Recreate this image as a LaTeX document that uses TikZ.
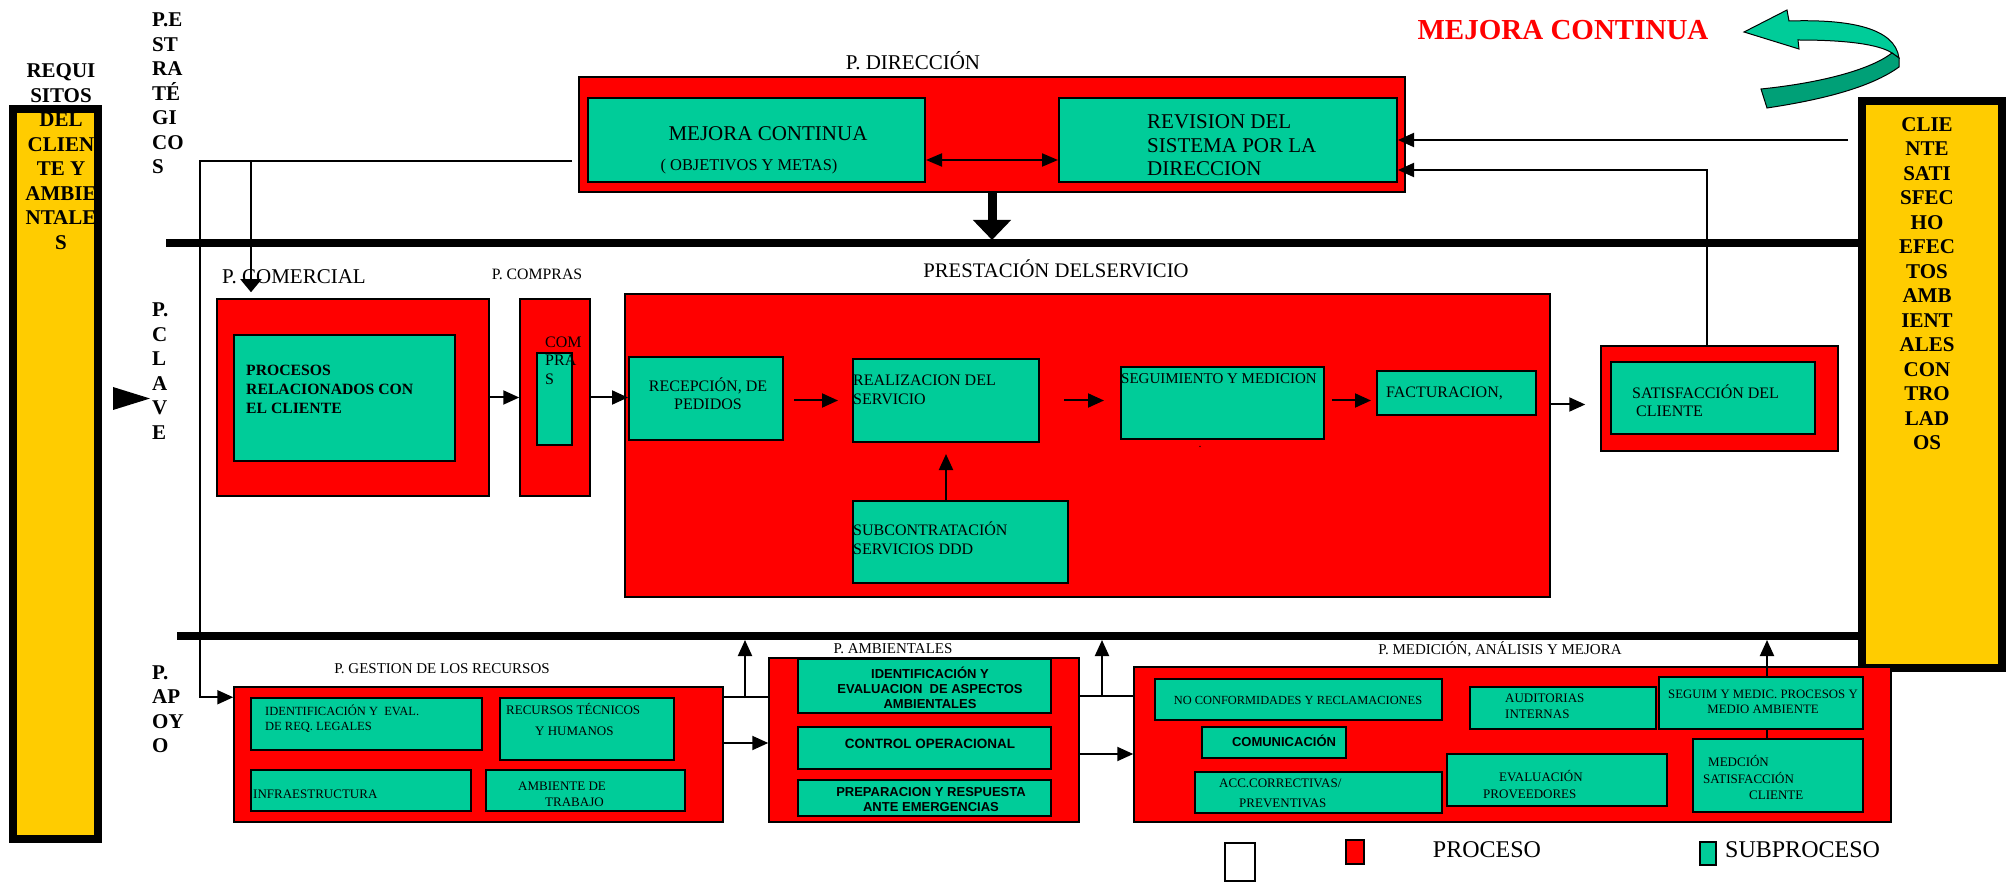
\documentclass[tikz,border=0pt]{standalone}
\usepackage{fontspec}
\setmainfont{Liberation Serif}
\setsansfont{Liberation Sans}
\usetikzlibrary{arrows.meta, positioning}

\definecolor{procred}{HTML}{FF0000}
\definecolor{subgreen}{HTML}{00CC99}
\definecolor{darkgreen}{HTML}{00A077}
\definecolor{baryellow}{HTML}{FFCC00}
\newcommand{\fsz}[2]{\fontsize{#1}{#2}\selectfont}

\begin{document}
\begin{tikzpicture}[
    x=1pt, y=-1pt,
    proc/.style={rectangle, draw=black, line width=1.5pt, fill=procred, inner sep=0pt},
    sub/.style={rectangle, draw=black, line width=2pt, fill=subgreen, inner sep=0pt},
    bar/.style={rectangle, draw=black, line width=8pt, fill=baryellow, inner sep=0pt},
    txt/.style={inner sep=0pt, font=\fsz{16}{18.7}},
    small/.style={inner sep=0pt, font=\fsz{13}{16}},
    bsans/.style={inner sep=0pt, font=\fsz{13}{15}\sffamily\bfseries},
    vtxt/.style={inner sep=0pt, align=left, font=\fsz{21}{24.5}\bfseries},
    flow/.style={line width=2pt, -{Triangle[length=16pt,width=14pt]}},
    sepline/.style={line width=8.5pt}
]
\fill[white] (0,0) rectangle (2006,882);
\useasboundingbox (0,0) rectangle (2006,882);

% side bars
\node[bar, minimum width=85pt, minimum height=730pt] (lbar) at (55.5,474) {};
\node[bar, minimum width=140pt, minimum height=567pt] (rbar) at (1932,384.5) {};
\node[vtxt, align=center] (t-req) at (61,156.5) {REQUI\\SITOS\\DEL\\CLIEN\\TE Y\\AMBIE\\NTALE\\S};
\node[vtxt, align=center] (t-cli) at (1927,283.5) {CLIE\\NTE\\SATI\\SFEC\\HO\\EFEC\\TOS\\AMB\\IENT\\ALES\\CON\\TRO\\LAD\\OS};
\node[vtxt, anchor=west] (t-estr) at (152,93.5) {P.E\\ST\\RA\\TÉ\\GI\\CO\\S};
\node[vtxt, anchor=west] (t-clave) at (152,371) {P.\\C\\L\\A\\V\\E};
\node[vtxt, anchor=west] (t-apoyo) at (152,709) {P.\\AP\\OY\\O};
\fill (113,387) -- (150,398.5) -- (113,410) -- cycle;

% mejora continua
\node[inner sep=0pt, text=procred, font=\fsz{29}{32}\bfseries] (t-mc) at (1563,30) {MEJORA CONTINUA};
\fill[subgreen, draw=black, line width=1pt] (1744,32) -- (1787,10) -- (1789,21)
    .. controls (1850,19) and (1895,28) .. (1899,58) -- (1892,53)
    .. controls (1880,45) and (1850,40) .. (1798,40) -- (1799,49) -- cycle;
\fill[darkgreen, draw=black, line width=1pt] (1892,53) -- (1899,58) -- (1899,67)
    .. controls (1870,88) and (1820,100) .. (1767,108) -- (1761,89)
    .. controls (1820,83) and (1870,70) .. (1892,53) -- cycle;

% direccion
\node[inner sep=0pt, font=\fsz{21}{24}] (t-dir) at (913,61) {P. DIRECCIÓN};
\node[proc, minimum width=826pt, minimum height=115pt] (dir) at (992,134.5) {};
\node[sub, minimum width=337pt, minimum height=84pt] (mej) at (756.5,140) {};
\node[sub, minimum width=338pt, minimum height=84pt] (rev) at (1228,140) {};
\node[inner sep=0pt, font=\fsz{21}{24}] (t-mej1) at (768,134) {MEJORA CONTINUA};
\node[inner sep=0pt, font=\fsz{16.4}{19}] (t-mej2) at (749,167) {( OBJETIVOS Y METAS)};
\node[inner sep=0pt, align=left, anchor=west, font=\fsz{21}{23.5}] (t-rev) at (1147,145.5) {REVISION DEL\\SISTEMA POR LA\\DIRECCION};

% procesos clave
\node[inner sep=0pt, font=\fsz{21}{24}] (t-com) at (294,277) {P. COMERCIAL};
\node[inner sep=0pt, font=\fsz{15.8}{18}] (t-cmp) at (537,274) {P. COMPRAS};
\node[inner sep=0pt, font=\fsz{20.7}{24}] (t-pres) at (1056,269) {PRESTACIÓN DELSERVICIO};
\node[proc, minimum width=272pt, minimum height=197pt] (com) at (353,397.5) {};
\node[sub, minimum width=221pt, minimum height=126pt] (proc) at (344.5,398) {};
\node[proc, minimum width=70pt, minimum height=197pt] (cmp) at (555,397.5) {};
\node[sub, minimum width=35pt, minimum height=92pt] (cmpin) at (554.5,399) {};
\node[proc, minimum width=925pt, minimum height=303pt] (pres) at (1087.5,445.5) {};
\node[sub, minimum width=154pt, minimum height=83pt] (rec) at (706,398.5) {};
\node[sub, minimum width=186pt, minimum height=83pt] (real) at (946,400.5) {};
\node[sub, minimum width=203pt, minimum height=72pt] (seg) at (1222.5,403) {};
\node[sub, minimum width=159pt, minimum height=44pt] (fac) at (1456.5,393) {};
\node[sub, minimum width=215pt, minimum height=82pt] (subc) at (960.5,542) {};
\node[proc, minimum width=237pt, minimum height=105pt] (satr) at (1719.5,398.5) {};
\node[sub, minimum width=204pt, minimum height=72pt] (sat) at (1713,398) {};

\node[inner sep=0pt, align=left, anchor=west, font=\fsz{15.7}{19}\bfseries] (t-proc) at (246,389) {PROCESOS\\RELACIONADOS CON\\EL CLIENTE};
\node[txt, align=left, anchor=west, font=\fsz{16}{18.5}] (t-cmpin) at (545,360.5) {COM\\PRA\\S};
\node[txt, align=center, font=\fsz{16}{18}] (t-rec) at (708,394) {RECEPCIÓN, DE\\PEDIDOS};
\node[txt, align=left, anchor=west, font=\fsz{16}{19}] (t-real) at (853,389.5) {REALIZACION DEL\\SERVICIO};
\node[txt, anchor=west, font=\fsz{15}{18}] (t-seg) at (1121,379) {SEGUIMIENTO Y MEDICION};
\node[inner sep=0pt, font=\fsz{12}{12}] (t-dot) at (1200,447) {.};
\node[txt, anchor=west] (t-fac) at (1386,393) {FACTURACION,};
\node[txt, align=left, anchor=west, font=\fsz{16}{19}] (t-sub) at (853,538.5) {SUBCONTRATACIÓN\\SERVICIOS DDD};
\node[txt, align=left, anchor=west, font=\fsz{16}{18}] (t-sat) at (1632,401) {SATISFACCIÓN DEL\\\ CLIENTE};

% procesos de apoyo
\node[inner sep=0pt, font=\fsz{15}{18}] (t-gest) at (442,669) {P. GESTION DE LOS RECURSOS};
\node[proc, minimum width=489pt, minimum height=135pt] (gest) at (478.5,754.5) {};
\node[sub, minimum width=231pt, minimum height=52pt] (idl) at (366.5,724) {};
\node[sub, minimum width=174pt, minimum height=62pt] (rth) at (587,729) {};
\node[sub, minimum width=220pt, minimum height=41pt] (inf) at (361,790.5) {};
\node[sub, minimum width=199pt, minimum height=41pt] (atr) at (585.5,790.5) {};
\node[small, align=left, anchor=west, font=\fsz{12.5}{15}] (t-idl) at (265,718.5) {IDENTIFICACIÓN Y\ \ EVAL.\\DE REQ. LEGALES};
\node[small, align=left, anchor=west, font=\fsz{13}{21}] (t-rth) at (506,719.5) {RECURSOS TÉCNICOS\\\hspace*{29pt}Y HUMANOS};
\node[small, anchor=west] (t-inf) at (253,794) {INFRAESTRUCTURA};
\node[small, align=left, anchor=west] (t-atr) at (518,794) {AMBIENTE DE\\\hspace*{27pt}TRABAJO};

\node[inner sep=0pt, font=\fsz{15}{18}] (t-amb) at (893,649) {P. AMBIENTALES};
\node[proc, minimum width=310pt, minimum height=164pt] (amb) at (924,740) {};
\node[sub, minimum width=253pt, minimum height=54pt] (iea) at (924.5,686) {};
\node[sub, minimum width=253pt, minimum height=42pt] (cop) at (924.5,748) {};
\node[sub, minimum width=253pt, minimum height=36pt] (pre) at (924.5,798) {};
\node[bsans, align=center] (t-iea) at (930,688) {IDENTIFICACIÓN Y\\EVALUACION\ \ DE ASPECTOS\\AMBIENTALES};
\node[bsans, font=\fsz{13.5}{15}\sffamily\bfseries] (t-cop) at (930,744) {CONTROL OPERACIONAL};
\node[bsans, align=center] (t-pre) at (931,799.5) {PREPARACION Y RESPUESTA\\ANTE EMERGENCIAS};

\node[inner sep=0pt, font=\fsz{15}{18}] (t-med) at (1500,649) {P. MEDICIÓN, ANÁLISIS Y MEJORA};
\node[proc, minimum width=757pt, minimum height=155pt] (med) at (1512.5,744.5) {};
\node[sub, minimum width=287pt, minimum height=41pt] (ncr) at (1298.5,699.5) {};
\node[sub, minimum width=144pt, minimum height=31pt] (comu) at (1274,742.5) {};
\node[sub, minimum width=247pt, minimum height=41pt] (acc) at (1318.5,792.5) {};
\node[sub, minimum width=186pt, minimum height=42pt] (aud) at (1563,708) {};
\node[sub, minimum width=220pt, minimum height=52pt] (eva) at (1557,780) {};
\node[sub, minimum width=204pt, minimum height=52pt] (segm) at (1761,703) {};
\node[sub, minimum width=170pt, minimum height=73pt] (mcs) at (1778,775.5) {};
\node[small, font=\fsz{12.4}{15}] (t-ncr) at (1298,700) {NO CONFORMIDADES Y RECLAMACIONES};
\node[bsans] (t-comu) at (1284,741) {COMUNICACIÓN};
\node[small, align=left, anchor=west, font=\fsz{13}{20}] (t-acc) at (1219,793) {ACC.CORRECTIVAS/\\\hspace*{20pt}PREVENTIVAS};
\node[small, align=left, anchor=west] (t-aud) at (1505,706) {AUDITORIAS\\INTERNAS};
\node[small, align=center, font=\fsz{12.8}{15.5}] (t-segm) at (1763,702) {SEGUIM Y MEDIC. PROCESOS Y\\MEDIO AMBIENTE};
\node[small, align=left, anchor=west, font=\fsz{13}{16.5}] (t-mcs) at (1703,777.5) {\hspace*{5pt}MEDCIÓN\\SATISFACCIÓN\\\hspace*{46pt}CLIENTE};
\node[small, align=left, anchor=west, font=\fsz{13}{17}] (t-eva) at (1483,784.5) {\hspace*{16pt}EVALUACIÓN\\PROVEEDORES};

% leyenda
\node[rectangle, draw=black, line width=1.5pt, fill=white, minimum width=30pt, minimum height=38pt] (leg-w) at (1240,862) {};
\node[proc, minimum width=18pt, minimum height=24pt] (leg-p) at (1355,852) {};
\node[sub, line width=1.5pt, minimum width=16pt, minimum height=23pt] (leg-s) at (1708,853.5) {};
\node[inner sep=0pt, font=\fsz{24}{26}] (t-proceso) at (1487,850) {PROCESO};
\node[inner sep=0pt, anchor=west, font=\fsz{24}{26}] (t-subproceso) at (1725,850) {SUBPROCESO};

% lineas y flechas
\coordinate (sepL1) at (166,243);
\coordinate (sepL2) at (177,636);
\coordinate (estr) at (572,161);
\coordinate (jl) at (200,161);
\coordinate (jc) at (251,161);
\coordinate (jga) at (745,698);
\coordinate (jam) at (1102,697);
\draw[sepline] (sepL1) -- (sepL1 -| rbar.west);
\draw[sepline] (sepL2) -- (sepL2 -| rbar.west);
\draw[line width=9pt, -{Triangle[length=20pt,width=37pt]}, shorten >=3pt] (dir.south) -- (dir.south |- sepL1);
\draw[line width=2pt, {Triangle[length=16pt,width=13pt]}-{Triangle[length=16pt,width=13pt]}] ([yshift=-20pt]mej.east) -- ([yshift=-20pt]rev.west);
\draw[flow, shorten <=10pt] (rbar.west |- rev.east) -- (rev.east);
\draw[flow] ([xshift=-13pt]satr.north) |- ([yshift=-30pt]rev.east);

\draw[flow] (estr) -- (jl) |- ([yshift=-11pt]gest.north west);
\draw[line width=2pt, -{Triangle[length=13pt,width=21pt]}, shorten >=6pt] (jc) -- (jc |- com.north);

\draw[flow] (com.east) -- (cmp.west);
\draw[flow] (cmp.east) -- (rec.west |- cmp.east);
\draw[flow, shorten <=10pt, shorten >=14pt] (rec.east |- real.west) -- (real.west);
\draw[flow, shorten <=24pt, shorten >=16pt] (real.east) -- (real.east -| seg.west);
\draw[flow, shorten <=7pt, shorten >=5pt] (seg.east |- real.east) -- (fac.west |- real.east);
\draw[flow, shorten <=12pt, shorten >=15pt] ([yshift=-6pt]satr.west -| fac.east) -- ([yshift=-6pt]satr.west);
\draw[flow, shorten >=11pt] (real.south |- subc.north) -- (real.south);

\draw[line width=2pt] ([yshift=-11pt]gest.north east) -- ([yshift=-11pt]gest.north east -| amb.west);
\draw[flow, shorten >=4pt] (jga) -- (jga |- sepL2);
\draw[flow] ([yshift=11.5pt]gest.east) -- ([yshift=11.5pt]gest.east -| amb.west);
\draw[line width=2pt] ([yshift=-39pt]amb.north east) -- ([yshift=-39pt]amb.north east -| med.west);
\draw[flow, shorten >=4pt] (jam) -- (jam |- sepL2);
\draw[flow] ([yshift=-14pt]amb.east) -- ([yshift=-14pt]amb.east -| med.west);
\draw[flow, shorten >=4pt] ([xshift=6pt]segm.north) -- ([xshift=6pt]segm.north |- sepL2);
\draw[line width=2pt] ([xshift=6pt]segm.south) -- ([xshift=6pt]segm.south |- mcs.north);

\end{tikzpicture}
\end{document}
